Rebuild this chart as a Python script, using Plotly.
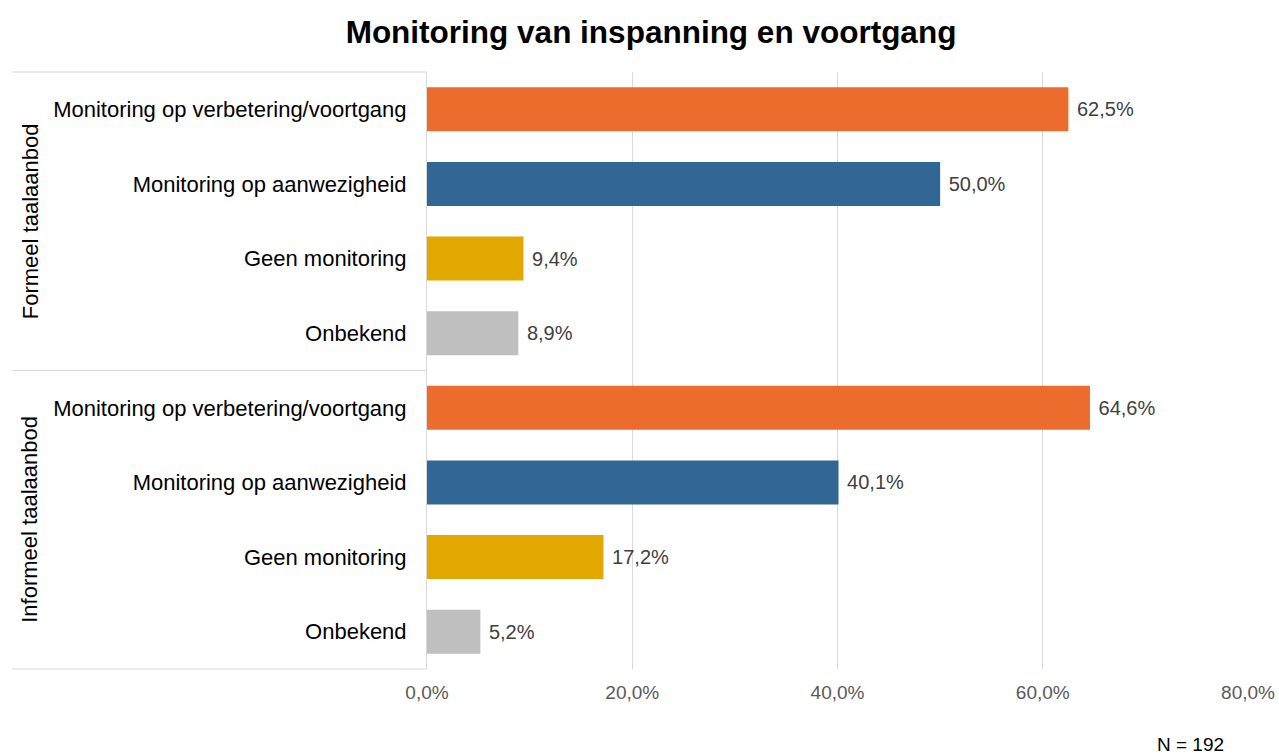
import plotly.graph_objects as go

groups = ["Formeel taalaanbod", "Informeel taalaanbod"]
labels = ["Monitoring op verbetering/voortgang", "Monitoring op aanwezigheid",
          "Geen monitoring", "Onbekend"]
formeel = [62.5, 50.0, 9.4, 8.9]
informeel = [64.6, 40.1, 17.2, 5.2]
colors = ["#EC6C2E", "#326694", "#E2A800", "#BFBFBF"]
x_ticks = [0, 20, 40, 60, 80]
x_tick_text = ["0,0%", "20,0%", "40,0%", "60,0%", "80,0%"]

values = formeel + informeel
row_labels = labels + labels
row_pos = list(range(len(values)))
bar_colors = colors + colors

FONT = "Liberation Sans, Arial, sans-serif"

fig = go.Figure()
fig.add_trace(go.Bar(
    x=values, y=row_pos, orientation="h",
    marker=dict(color=bar_colors, line=dict(width=0)),
    width=0.59,
    text=[(" " + f"{v:.1f}%").replace(".", ",") for v in values],
    textposition="outside", cliponaxis=False,
    textfont=dict(family=FONT, size=20, color="#404040"),
    hoverinfo="skip",
))

fig.update_layout(
    width=1279, height=756,
    margin=dict(l=427, r=31, t=72, b=87, autoexpand=False),
    paper_bgcolor="white", plot_bgcolor="white",
    separators=",.",
    showlegend=False,
    title=dict(text="<b>Monitoring van inspanning en voortgang</b>",
               x=0.509, xanchor="center", y=1 - 32 / 756, yanchor="middle",
               font=dict(family=FONT, size=31.5, color="black")),
    font=dict(family=FONT),
)

fig.update_xaxes(
    range=[0, 80], tickvals=x_ticks, ticktext=x_tick_text,
    showgrid=True, gridcolor="#D9D9D9", gridwidth=1,
    zeroline=False, showline=False, automargin=False,
    tickfont=dict(family=FONT, size=19, color="#595959"),
    ticks="outside", ticklen=6, tickcolor="rgba(0,0,0,0)",
)
fig.update_yaxes(
    range=[len(values) - 0.5, -0.5],
    tickvals=row_pos, ticktext=row_labels,
    tickfont=dict(family=FONT, size=22, color="black"),
    showgrid=False, zeroline=False, automargin=False,
    showline=True, linecolor="#D9D9D9", linewidth=1,
    ticks="outside", ticklen=15, tickcolor="rgba(0,0,0,0)",
)

# group separator lines on the left
x_left = (12 - 427) / 821
for yp in [1.0, 0.5, 0.0]:
    fig.add_shape(type="line", xref="paper", yref="paper",
                  x0=x_left, x1=0, y0=yp, y1=yp,
                  line=dict(color="#D9D9D9", width=1))

for i, g in enumerate(groups):
    fig.add_annotation(text=g, xref="paper", yref="paper",
                       x=(30 - 427) / 821, y=0.75 - 0.5 * i,
                       textangle=-90, showarrow=False,
                       xanchor="center", yanchor="middle",
                       font=dict(family=FONT, size=22, color="black"))

fig.add_annotation(text="N = 192", xref="paper", yref="paper",
                   x=(1190 - 427) / 821, y=-(744 - 669) / 597,
                   showarrow=False, xanchor="center", yanchor="middle",
                   font=dict(family=FONT, size=19, color="black"))

fig.write_html("out.html", config={"displayModeBar": False},
               post_script="document.body.style.margin='0';")
